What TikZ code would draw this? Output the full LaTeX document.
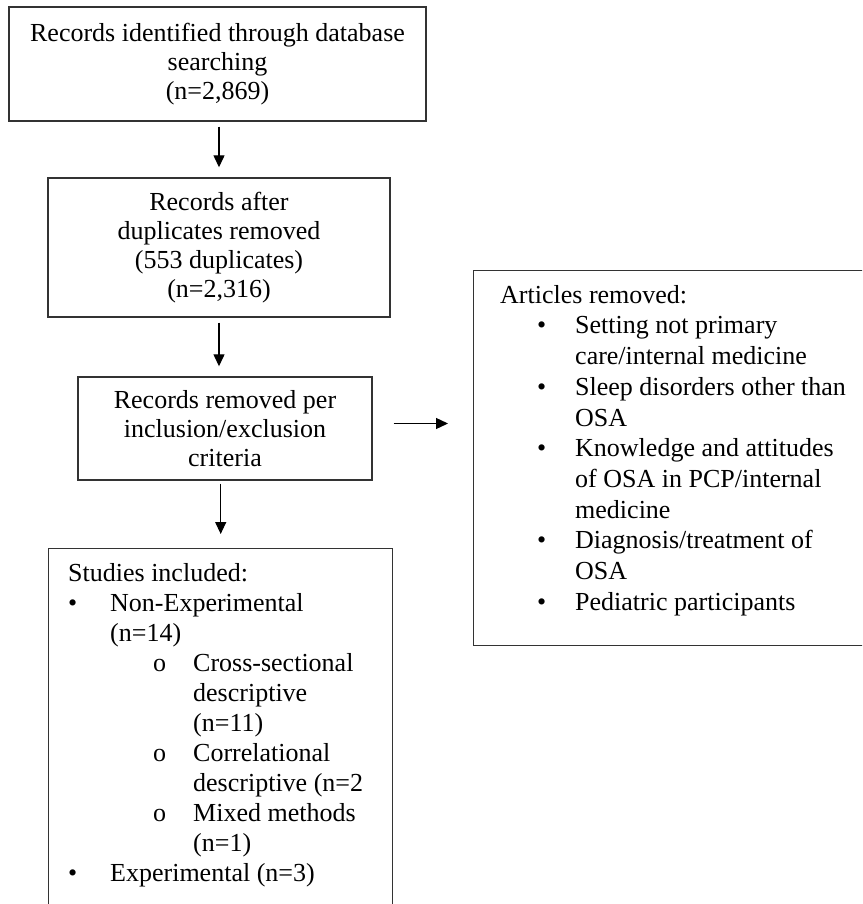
\documentclass[tikz,border=0pt]{standalone}
\usepackage{fontspec}
\setmainfont{Liberation Serif}
\usetikzlibrary{arrows.meta,calc}
\newcommand{\bul}{\makebox[42pt][l]{\textbullet}}
\newcommand{\subbul}{\hspace*{85pt}\makebox[40pt][l]{o}}
\newcommand{\rbul}{\hspace*{37pt}\makebox[38pt][l]{\textbullet}}

\begin{document}
\begin{tikzpicture}[x=1pt,y=-1pt,
    box/.style={draw=black!80,line width=1.4pt,inner sep=0pt},
    txt/.style={font=\fontsize{26}{29}\selectfont,align=center},
    list/.style={font=\fontsize{26}{30}\selectfont,align=left,inner sep=0pt},
    arr/.style={-{Triangle[length=12pt,width=11pt]},line width=1.3pt}]
  \useasboundingbox (0,0) rectangle (862,904);
  \clip (0,0) rectangle (862,904);
  % left column
  \node[box,txt,minimum width=417pt,minimum height=114pt] (search) at (217.5,64)
    {Records identified through database\\searching\\(n=2,869)};
  \node[box,txt,minimum width=342pt,minimum height=139pt] (dup) at (219,247.5)
    {Records after\\duplicates removed\\(553 duplicates)\\(n=2,316)};
  \node[box,txt,minimum width=294pt,minimum height=103pt] (crit) at (225,428.5)
    {Records removed per\\inclusion/exclusion\\criteria};
  \node[box,minimum width=344pt,minimum height=400pt,anchor=north west] (incl) at (48,548) {};
  \node[list,anchor=north west] (incltext) at (68,563)
    {Studies included:\\
     \bul Non-Experimental\\
     \hspace*{42pt}(n=14)\\
     \subbul Cross-sectional\\
     \hspace*{125pt}descriptive\\
     \hspace*{125pt}(n=11)\\
     \subbul Correlational\\
     \hspace*{125pt}descriptive (n=2\\
     \subbul Mixed methods\\
     \hspace*{125pt}(n=1)\\
     \bul Experimental (n=3)};
  % right box
  \node[box,minimum width=420pt,minimum height=375pt,anchor=north west] (removed) at (473,270) {};
  \node[list,font=\fontsize{26}{30.7}\selectfont,anchor=north west] (removedtext) at (500,285)
    {Articles removed:\\
     \rbul Setting not primary\\
     \hspace*{75pt}care/internal medicine\\
     \rbul Sleep disorders other than\\
     \hspace*{75pt}OSA\\
     \rbul Knowledge and attitudes\\
     \hspace*{75pt}of OSA in PCP/internal\\
     \hspace*{75pt}medicine\\
     \rbul Diagnosis/treatment of\\
     \hspace*{75pt}OSA\\
     \rbul Pediatric participants};
  % arrows
  \draw[arr,shorten <=5pt,shorten >=10pt] (search.south -| dup.north) -- (dup.north);
  \draw[arr,shorten <=5pt,shorten >=10pt] (dup.south) -- (dup.south |- crit.north);
  \draw[arr,shorten <=3pt,shorten >=14pt] (crit.south -| incl.north) -- (incl.north);
  \draw[arr,shorten <=21pt,shorten >=25pt] ([yshift=5pt]crit.east) -- ([yshift=5pt]crit.east -| removed.west);
\end{tikzpicture}
\end{document}
